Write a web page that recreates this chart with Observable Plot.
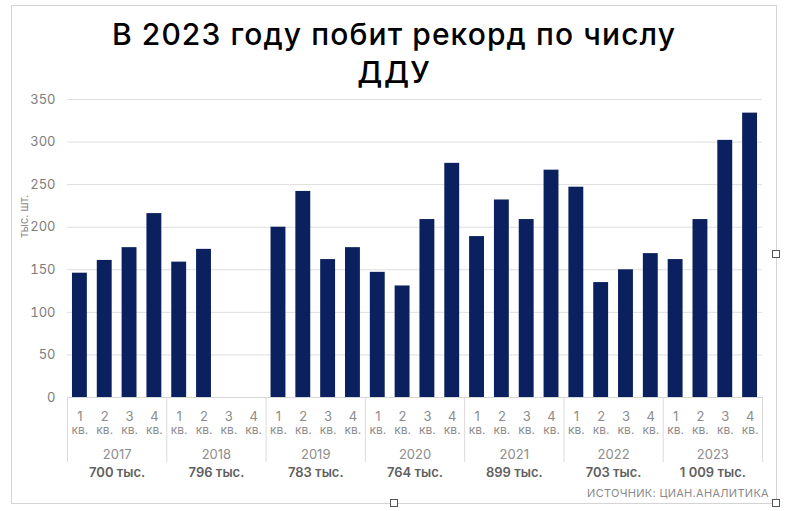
<!DOCTYPE html>
<html><head><meta charset="utf-8">
<script src="https://cdn.jsdelivr.net/npm/d3@7"></script>
<script src="https://cdn.jsdelivr.net/npm/@observablehq/plot@0.6"></script>
<style>
body{margin:0;background:#fff;}
#wrap{position:relative;width:800px;height:511px;overflow:hidden;font-family:Inter, sans-serif;}
#frame{position:absolute;left:11px;top:5px;width:764px;height:497px;border:1px solid #d4d4d4;}
#title{position:absolute;left:11px;width:766px;top:15px;text-align:center;font-size:30px;font-weight:500;line-height:38px;letter-spacing:1.1px;color:#000;}
#chart{position:absolute;left:0;top:86px;}
#source{position:absolute;right:31px;top:486px;font-size:11px;color:#8a8a8a;letter-spacing:0.3px;}
.h{position:absolute;width:6px;height:6px;border:1px solid #555;background:#fff;}
</style></head>
<body>
<div id="wrap">
  <div id="frame"></div>
  <div id="title">В 2023 году побит рекорд по числу<br>ДДУ</div>
  <div id="chart"></div>
  <div id="source">ИСТОЧНИК: ЦИАН.АНАЛИТИКА</div>
  <div class="h" style="left:772px;top:250px"></div>
  <div class="h" style="left:390px;top:499px"></div>
  <div class="h" style="left:772px;top:499px"></div>
</div>
<script>
const years = ["2017", "2018", "2019", "2020", "2021", "2022", "2023"];
const totals = ["700 тыс.", "796 тыс.", "783 тыс.", "764 тыс.", "899 тыс.", "703 тыс.", "1 009 тыс."];
const quarterNums = ["1", "2", "3", "4"];
const quarterWord = "кв.";
const q2017 = [146, 161, 176, 216];
const q2018 = [159, 174, null, null];
const q2019 = [200, 242, 162, 176];
const q2020 = [147, 131, 209, 275];
const q2021 = [189, 232, 209, 267];
const q2022 = [247, 135, 150, 169];
const q2023 = [162, 209, 302, 334];
const yTicks = [0, 50, 100, 150, 200, 250, 300, 350];
const yLabel = "тыс. шт.";

const series = [q2017, q2018, q2019, q2020, q2021, q2022, q2023];
const rows = years.flatMap((yr, yi) => series[yi].map((v, qi) => ({year: yr, q: quarterNums[qi], i: yi * 4 + qi, value: v})));
const bars = rows.filter(d => d.value != null);
const yearRows = years.map((yr, yi) => ({year: yr, total: totals[yi], mid: yi * 4 + 2}));
const seps = d3.range(0, years.length * 4 + 1, 4);

const navy = "#0b215f";
const grid = "#dedede";
const labelGray = "#8c8c8c";

const chart = Plot.plot({
  width: 800,
  height: 420,
  marginTop: 13,
  marginBottom: 109,
  marginLeft: 67,
  marginRight: 38,
  style: {fontFamily: "Inter, sans-serif", background: "transparent"},
  x: {domain: [0, years.length * 4], axis: null},
  y: {domain: [0, 350], axis: null},
  marks: [
    Plot.gridY(yTicks, {stroke: grid, strokeOpacity: 1}),
    Plot.axisY(yTicks, {tickSize: 0, tickPadding: 12, label: null, fill: "#7d7d7d", fontSize: 13}),
    Plot.text([yLabel], {frameAnchor: "left", rotate: -90, dx: -43, dy: -11, fill: labelGray, fontSize: 11}),
    Plot.rectY(bars, {x1: d => d.i + 0.2, x2: d => d.i + 0.8, y: "value", fill: navy}),
    Plot.ruleY([0], {stroke: "#d6d6d6"}),
    Plot.ruleX(seps, {y1: 0, y2: 0, insetBottom: -65, stroke: "#dadada"}),
    Plot.text(rows, {x: d => d.i + 0.5, y: 0, text: "q", dy: 19, fill: labelGray, fontSize: 13}),
    Plot.text(rows, {x: d => d.i + 0.5, y: 0, text: () => quarterWord, dy: 33, fill: labelGray, fontSize: 12}),
    Plot.text(yearRows, {x: "mid", y: 0, text: "year", dy: 57, fill: labelGray, fontSize: 13}),
    Plot.text(yearRows, {x: "mid", y: 0, text: "total", dy: 75, fill: "#5f5f5f", fontSize: 13, fontWeight: 600})
  ]
});
document.getElementById("chart").appendChild(chart);
</script>
</body></html>
